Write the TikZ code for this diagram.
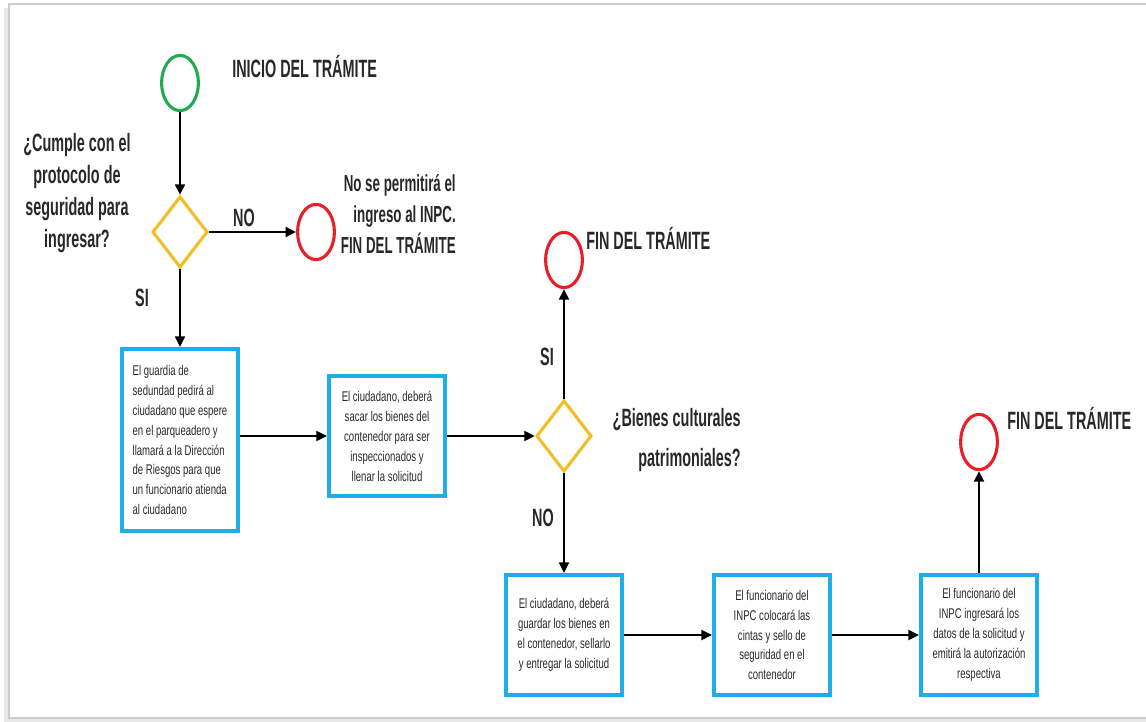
\documentclass[tikz,border=0pt]{standalone}
\usepackage{fontspec}
\setmainfont{Liberation Sans}
\newfontfamily\fuentetitulo{Liberation Sans}[FakeStretch=0.575]
\newfontfamily\fuentecaja{Liberation Sans}[FakeStretch=0.68]
\usetikzlibrary{shapes.geometric, arrows.meta}
\definecolor{verde}{RGB}{34,170,80}
\definecolor{rojo}{RGB}{232,30,40}
\definecolor{amarillo}{RGB}{242,190,40}
\definecolor{celeste}{RGB}{30,175,235}
\definecolor{texto}{RGB}{40,40,40}

\begin{document}
\begin{tikzpicture}[x=0.025cm, y=-0.025cm,
        >={Triangle[length=7.5pt, width=7pt]},
        flecha/.style={->, line width=1.6pt},
        circulo/.style={ellipse, draw, line width=2.2pt, minimum width=0.92cm, minimum height=1.38cm, inner sep=0pt},
        rombo/.style={diamond, draw=amarillo, line width=2.2pt, minimum width=1.38cm, minimum height=1.78cm, inner sep=0pt},
        caja/.style={draw=celeste, line width=2.8pt, align=center, inner sep=0pt, minimum width=2.9cm, minimum height=3cm, text=texto, font=\fuentecaja\fontsize{10pt}{14.2pt}\selectfont},
        etiqueta/.style={inner sep=0pt, text=texto, font=\fuentetitulo\bfseries\fontsize{17.8pt}{22.8pt}\selectfont}]
        \useasboundingbox (0, 0) rectangle (1146, 722);
        \draw[gray!18, line width=3pt] (6, 8) -- (6, 721) -- (1160, 721);
        \draw[gray!40, line width=1pt] (9, 4) rectangle (1160, 718);

        \node[circulo, draw=verde] (inicio) at (180, 83) {};
        \node[rombo] (rombo1) at (180, 232) {};
        \node[circulo, draw=rojo] (fin1) at (316, 232) {};
        \node[caja, align=left, minimum height=4.55cm] (caja1) at (180, 440) {El guardia de\\ sedundad pedirá al\\ ciudadano que espere\\ en el parqueadero y\\ llamará a la Dirección\\ de Riesgos para que\\ un funcionario atienda\\ al ciudadano};
        \node[caja, minimum height=2.98cm] (caja2) at (387, 436) {El ciudadano, deberá\\ sacar los bienes del\\ contenedor para ser\\ inspeccionados y\\ llenar la solicitud};
        \node[rombo] (rombo2) at (564, 436) {};
        \node[circulo, draw=rojo] (fin2) at (564, 260) {};
        \node[caja] (caja3) at (564, 635) {El ciudadano, deberá\\ guardar los bienes en\\ el contenedor, sellarlo\\ y entregar la solicitud};
        \node[caja] (caja4) at (772, 635) {El funcionario del\\ INPC colocará las\\ cintas y sello de\\ seguridad en el\\ contenedor};
        \node[caja] (caja5) at (979, 635) {El funcionario del\\ INPC ingresará los\\ datos de la solicitud y\\ emitirá la autorización\\ respectiva};
        \node[circulo, draw=rojo] (fin3) at (979, 442) {};

        \node[etiqueta, anchor=west] (tinicio) at (232, 67) {INICIO DEL TRÁMITE};
        \node[etiqueta, align=center] (pregunta1) at (77, 193) {¿Cumple con el\\ protocolo de\\ seguridad para\\ ingresar?};
        \node[etiqueta, anchor=east, align=right, font=\fuentetitulo\bfseries\fontsize{16.5pt}{22pt}\selectfont] (tfin1) at (456, 214) {No se permitirá el\\ ingreso al INPC.\\ FIN DEL TRÁMITE};
        \node[etiqueta, anchor=west] (tfin2) at (586, 238) {FIN DEL TRÁMITE};
        \node[etiqueta, anchor=east, align=right, font=\fuentetitulo\bfseries\fontsize{17.8pt}{28.4pt}\selectfont] (pregunta2) at (741, 440) {¿Bienes culturales\\ patrimoniales?};
        \node[etiqueta, anchor=west] (tfin3) at (1007, 418) {FIN DEL TRÁMITE};
        \node[etiqueta] (no1) at (244, 218) {NO};
        \node[etiqueta] (si1) at (142, 298) {SI};
        \node[etiqueta] (si2) at (547, 357) {SI};
        \node[etiqueta] (no2) at (543, 518) {NO};

        \draw[flecha] (inicio) -- (rombo1);
        \draw[flecha] (rombo1) -- (fin1);
        \draw[flecha] (rombo1) -- (caja1);
        \draw[flecha] (caja1.east |- caja2) -- (caja2);
        \draw[flecha] (caja2) -- (rombo2);
        \draw[flecha] (rombo2) -- (fin2);
        \draw[flecha] (rombo2) -- (caja3);
        \draw[flecha] (caja3) -- (caja4);
        \draw[flecha] (caja4) -- (caja5);
        \draw[flecha] (caja5) -- (fin3);
    \end{tikzpicture}
\end{document}
